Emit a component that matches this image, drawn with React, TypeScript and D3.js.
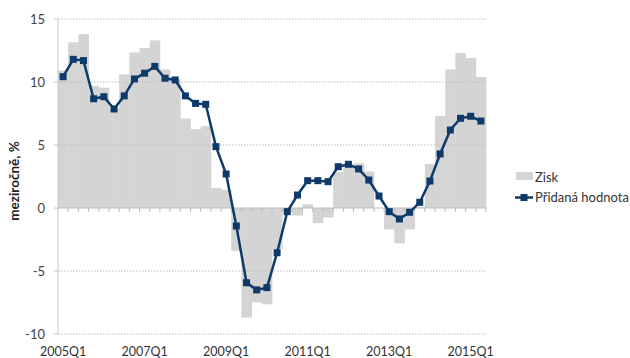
import React from "react";
import * as d3 from "d3";

const quarters: string[] = [];
for (let y = 2005; y <= 2015; y++) {
  for (let q = 1; q <= 4; q++) {
    if (y === 2015 && q > 2) break;
    quarters.push(`${y}Q${q}`);
  }
}

const zisk: number[] = [
  10.9, 13.15, 13.8, 9.7, 9.55, 7.9, 10.6, 12.35,
  12.7, 13.3, 11.0, 10.2, 7.1, 6.25, 6.5, 1.6,
  1.45, -3.4, -8.7, -7.5, -7.65, -3.25, -0.3, -0.6,
  0.3, -1.2, -0.75, 2.85, 3.3, 3.55, 2.9, 0.0,
  -1.7, -2.8, -1.7, 0.1, 3.5, 7.3, 11.0, 12.3,
  11.9, 10.4,
];

const pridanaHodnota: number[] = [
  10.42, 11.8, 11.7, 8.67, 8.83, 7.86, 8.9, 10.24,
  10.7, 11.24, 10.3, 10.16, 8.9, 8.3, 8.23, 4.87,
  2.7, -1.43, -5.93, -6.5, -6.32, -3.55, -0.29, 1.03,
  2.17, 2.17, 2.09, 3.28, 3.47, 3.1, 2.22, 0.95,
  -0.29, -0.87, -0.34, 0.45, 2.14, 4.29, 6.19, 7.12,
  7.28, 6.9,
];

const yTicks: number[] = [-10, -5, 0, 5, 10, 15];
const xLabels: string[] = ["2005Q1", "2007Q1", "2009Q1", "2011Q1", "2013Q1", "2015Q1"];

const W = 630;
const H = 358;
const FONT = "Lato, 'Open Sans', sans-serif";
const NAVY = "#0d3a69";
const GRAY = "#d4d4d4";

export default function App() {
  const x = d3.scaleBand<string>().domain(quarters).range([58, 486]).padding(0);
  const y = d3.scaleLinear().domain([-10, 15]).range([334, 19]);
  const bw = x.bandwidth();
  const cx = (q: string) => (x(q) as number) + bw / 2;

  const line = d3
    .line<number>()
    .x((_, i) => cx(quarters[i]))
    .y((d) => y(d));

  return (
    <div style={{ position: "absolute", left: 0, top: 0 }}>
      <svg width={W} height={H} style={{ display: "block", fontFamily: FONT }}>
        <rect x={0} y={0} width={W} height={H} fill="#fff" />
        {zisk.map((v, i) => (
          <rect
            key={"b" + i}
            x={x(quarters[i]) as number}
            y={y(Math.max(0, v))}
            width={bw + 0.4}
            height={Math.abs(y(v) - y(0))}
            fill={GRAY}
          />
        ))}
        {yTicks
          .filter((t) => t !== 0)
          .map((t) => (
            <line
              key={"g" + t}
              x1={58}
              x2={486}
              y1={y(t)}
              y2={y(t)}
              stroke="#bdbdbd"
              strokeWidth={1}
              strokeDasharray="1.5,1.5"
            />
          ))}
        <line x1={58} x2={58} y1={y(15)} y2={y(-10)} stroke="#c8c8c8" strokeWidth={1} />
        {yTicks.map((t) => (
          <g key={"yt" + t}>
            <line x1={54} x2={58} y1={y(t)} y2={y(t)} stroke="#c8c8c8" />
            <text
              x={45}
              y={y(t)}
              dy="0.35em"
              textAnchor="end"
              fontSize={13}
              fill="#444"
            >
              {t}
            </text>
          </g>
        ))}
        <line x1={58} x2={486} y1={y(0)} y2={y(0)} stroke="#bcbcbc" strokeWidth={1} />
        {quarters.map((q, i) => (
          <line
            key={"xt" + i}
            x1={(x(q) as number) + bw}
            x2={(x(q) as number) + bw}
            y1={y(0)}
            y2={y(0) + 4}
            stroke="#bcbcbc"
          />
        ))}
        {xLabels.map((l) => (
          <text
            key={l}
            x={cx(l)}
            y={356}
            textAnchor="middle"
            fontSize={12.5}
            fill="#333"
          >
            {l}
          </text>
        ))}
        <text
          transform={`translate(19,181) rotate(-90)`}
          textAnchor="middle"
          fontSize={13.5}
          fontWeight="bold"
          fill="#222"
        >
          meziročně, %
        </text>
        <path d={line(pridanaHodnota) || ""} fill="none" stroke={NAVY} strokeWidth={2.5} />
        {pridanaHodnota.map((v, i) => (
          <rect
            key={"m" + i}
            x={cx(quarters[i]) - 3.5}
            y={y(v) - 3.5}
            width={7}
            height={7}
            fill={NAVY}
          />
        ))}
        <rect x={516} y={172} width={17} height={8} fill={GRAY} />
        <text x={535} y={182} fontSize={13} fill="#333">
          Zisk
        </text>
        <line x1={515} x2={533} y1={197.5} y2={197.5} stroke={NAVY} strokeWidth={2.5} />
        <rect x={520.5} y={194} width={7} height={7} fill={NAVY} />
        <text x={535} y={202} fontSize={13} fill="#333">
          Přidaná hodnota
        </text>
      </svg>
    </div>
  );
}
